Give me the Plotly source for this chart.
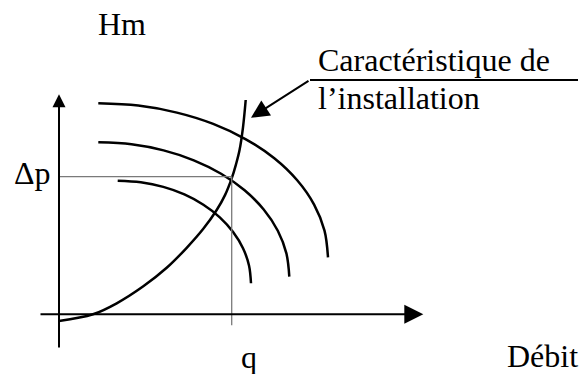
import plotly.graph_objects as go

# ---- data (schematic units) ----
sys_q = [0, 34, 57.7, 84.3, 107.7, 127.7, 144.3, 157.7, 166, 172.7, 177, 180.5, 184, 186.7]
sys_h = [-6.7, 0, 11, 28, 46.5, 66.5, 85.5, 104.3, 119.2, 136, 150, 164, 187, 214.3]

pump3_q = [39.3, 79.2, 117.9, 154.2, 186.9, 215.3, 238.2, 255.1, 265.5, 269]
pump3_h = [211, 208.7, 201.7, 190.4, 175, 156, 134, 109.7, 83.7, 57]

pump2_q = [39.3, 72.5, 104.6, 134.8, 162.1, 185.6, 204.7, 218.8, 227.4, 230.3]
pump2_h = [172, 170, 163.9, 154, 140.6, 124, 104.8, 83.6, 60.9, 37.6]

pump1_q = [58.7, 81.8, 104.3, 125.4, 144.4, 160.8, 174.1, 184, 190, 192]
pump1_h = [133.6, 132, 127.4, 119.9, 109.6, 97, 82.3, 66.1, 48.8, 31]

op_q = 172.7      # operating flow  q
op_dp = 137.6     # operating head  Δp

FONT = "Liberation Serif"
FS = 32

fig = go.Figure()

for qs, hs in [(pump3_q, pump3_h), (pump2_q, pump2_h), (pump1_q, pump1_h), (sys_q, sys_h)]:
    fig.add_trace(go.Scatter(x=qs, y=hs, mode="lines",
                             line=dict(color="black", width=2.5, shape="spline", smoothing=1.0),
                             hoverinfo="skip", showlegend=False))

# operating point guide lines
fig.add_trace(go.Scatter(x=[0, op_q], y=[op_dp, op_dp], mode="lines",
                         line=dict(color="#7a7a7a", width=1.3), hoverinfo="skip", showlegend=False))
fig.add_trace(go.Scatter(x=[op_q, op_q], y=[-11, op_dp], mode="lines",
                         line=dict(color="#7a7a7a", width=1.3), hoverinfo="skip", showlegend=False))

# leader line for the label
fig.add_trace(go.Scatter(x=[251, 519], y=[234.3, 234.3], mode="lines",
                         line=dict(color="black", width=2), hoverinfo="skip", showlegend=False))

annotations = [
    # horizontal axis
    dict(x=364.3, y=0, ax=-20, ay=0, xref="x", yref="y", axref="x", ayref="y",
         showarrow=True, arrowhead=2, arrowsize=1.9, arrowwidth=2, arrowcolor="black", text=""),
    # vertical axis
    dict(x=0, y=220, ax=0, ay=-34.7, xref="x", yref="y", axref="x", ayref="y",
         showarrow=True, arrowhead=2, arrowsize=1.3, arrowwidth=2, arrowcolor="black", text=""),
    # label arrow
    dict(x=192, y=196.6, ax=251, ay=234.3, xref="x", yref="y", axref="x", ayref="y",
         showarrow=True, arrowhead=2, arrowsize=1.8, arrowwidth=2, arrowcolor="black", text=""),
]

texts = [
    ("Hm", 37.7, 280),
    ("Caractéristique de", 257.7, 243.6),
    ("l\u2019installation", 257.7, 206),
    ("\u0394p", -46.3, 130.3),
    ("q", 181, -53.2),
    ("Débit", 447.3, -52.3),
]
for t, x, yb in texts:
    annotations.append(dict(x=x, y=yb + 10.8, xref="x", yref="y", text=t, showarrow=False,
                            xanchor="left", yanchor="middle", borderpad=0,
                            font=dict(family=FONT, size=FS, color="black")))

fig.update_layout(
    width=587, height=374,
    margin=dict(l=0, r=0, t=0, b=0),
    paper_bgcolor="white", plot_bgcolor="white",
    xaxis=dict(range=[-59, 528], visible=False, fixedrange=True),
    yaxis=dict(range=[-59.7, 314.3], visible=False, fixedrange=True),
    annotations=annotations,
    showlegend=False,
)

fig.write_html("out.html", config={"displayModeBar": False},
               post_script="document.body.style.margin='0';document.body.style.overflow='hidden';")
